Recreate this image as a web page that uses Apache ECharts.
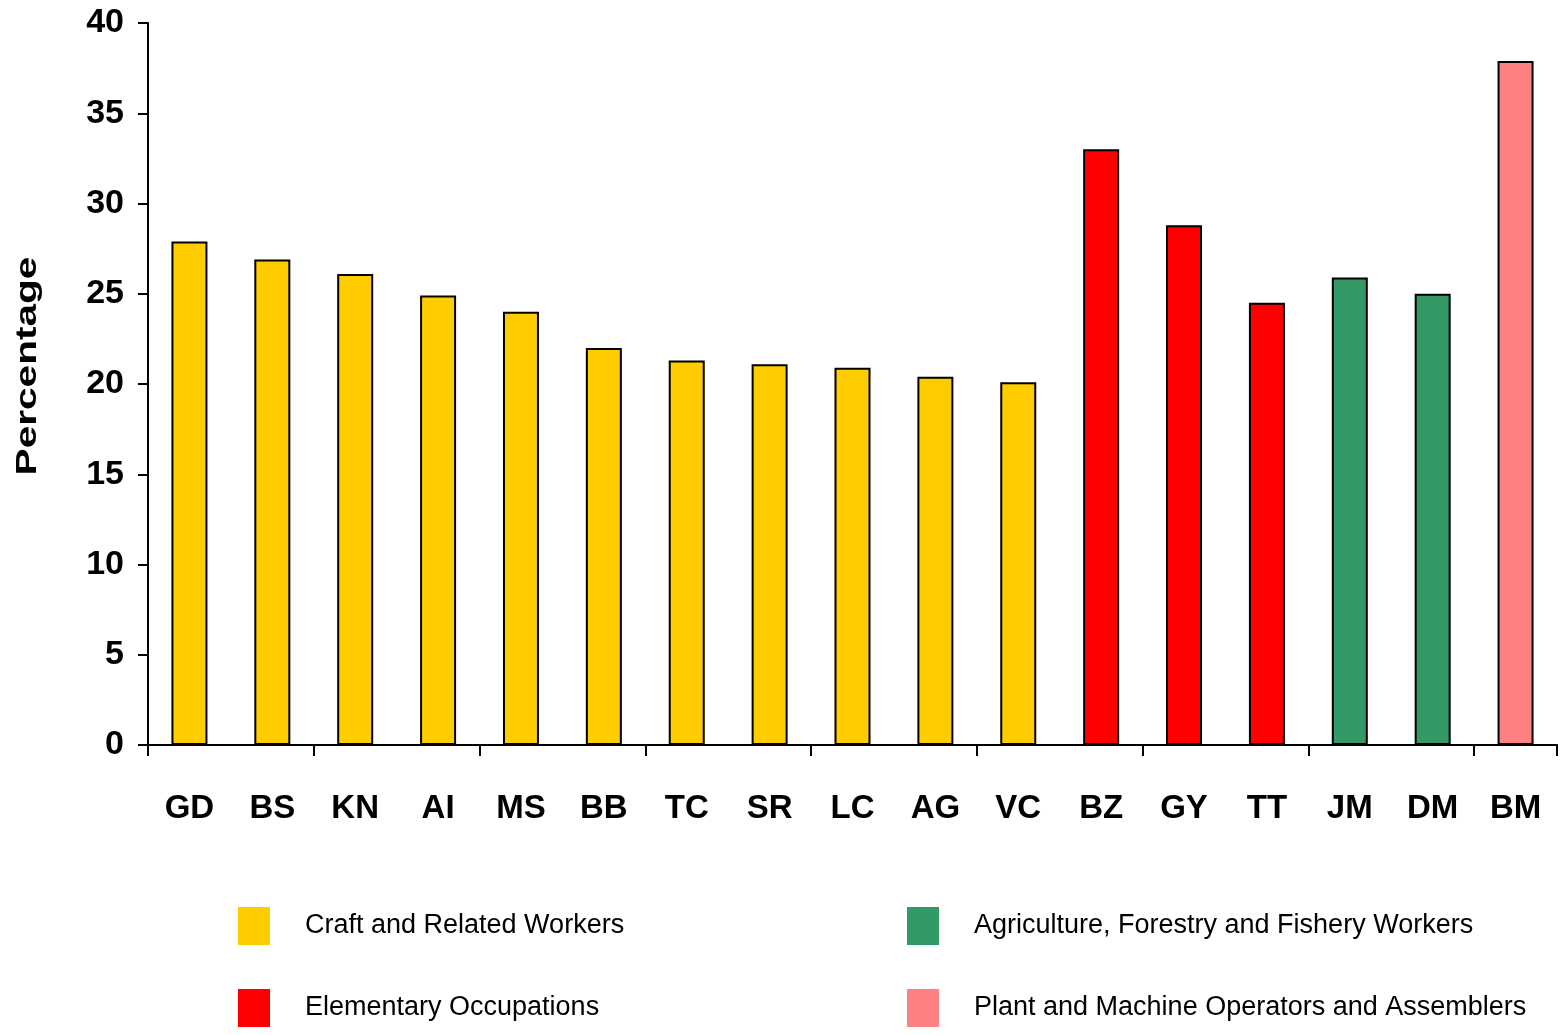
<!DOCTYPE html>
<html>
<head>
<meta charset="utf-8">
<script src="https://cdn.jsdelivr.net/npm/echarts@6/dist/echarts.min.js"></script>
<style>
  html, body { margin: 0; padding: 0; background: #ffffff; }
  #chart { width: 1565px; height: 1035px; }
</style>
</head>
<body>
<div id="chart"></div>
<script>
// Country codes along the x axis
const countries = ['GD', 'BS', 'KN', 'AI', 'MS', 'BB', 'TC', 'SR', 'LC', 'AG', 'VC', 'BZ', 'GY', 'TT', 'JM', 'DM', 'BM'];

// Share (%) of the leading occupational group in each country
const craftValues       = [27.9, 26.9, 26.1, 24.9, 24.0, 22.0, 21.3, 21.1, 20.9, 20.4, 20.1, null, null, null, null, null, null];
const elementaryValues  = [null, null, null, null, null, null, null, null, null, null, null, 33.0, 28.8, 24.5, null, null, null];
const agricultureValues = [null, null, null, null, null, null, null, null, null, null, null, null, null, null, 25.9, 25.0, null];
const plantValues       = [null, null, null, null, null, null, null, null, null, null, null, null, null, null, null, null, 37.9];

const groupNames = [
  'Craft and Related Workers',
  'Elementary Occupations',
  'Agriculture, Forestry and Fishery Workers',
  'Plant and Machine Operators and Assemblers'
];
const groupColors = ['#FFCC00', '#FF0000', '#339966', '#FF8080'];
const groupValues = [craftValues, elementaryValues, agricultureValues, plantValues];

const yTicks = [0, 5, 10, 15, 20, 25, 30, 35, 40];

const fontStack = '"Liberation Sans", Arial, sans-serif';

const chart = echarts.init(document.getElementById('chart'), null, { renderer: 'canvas' });

const series = groupNames.map((name, i) => ({
  name: name,
  type: 'bar',
  stack: 'share',
  barWidth: 36,
  data: groupValues[i].map(v => (v === null ? '-' : v)),
  itemStyle: { color: groupColors[i], borderColor: '#000000', borderWidth: 2 },
  emphasis: { disabled: true }
}));

// One legend block per group, laid out as a 2x2 grid
const legendSlots = [
  { left: 238, top: 907, padTop: 4 },
  { left: 238, top: 989, padTop: 8 },
  { left: 907, top: 907, padTop: 2 },
  { left: 907, top: 989, padTop: 8 }
];
const legends = groupNames.map((name, i) => ({
  data: [name],
  left: legendSlots[i].left,
  top: legendSlots[i].top,
  orient: 'horizontal',
  padding: 0,
  itemWidth: 32,
  itemHeight: 38,
  icon: 'rect',
  selectedMode: false,
  itemStyle: { borderWidth: 0 },
  textStyle: {
    fontFamily: fontStack,
    fontSize: 27,
    color: '#000000',
    padding: [legendSlots[i].padTop, 0, 0, 30]
  }
}));

chart.setOption({
  animation: false,
  backgroundColor: '#ffffff',
  grid: { left: 148, right: 8, top: 23, bottom: 290, containLabel: false },
  legend: legends,
  xAxis: {
    type: 'category',
    data: countries,
    axisLine: { show: true, lineStyle: { color: '#000000', width: 2 } },
    axisTick: { show: true, interval: 1, length: 11, lineStyle: { color: '#000000', width: 2 } },
    axisLabel: {
      interval: 0,
      margin: 47,
      color: '#000000',
      fontFamily: fontStack,
      fontWeight: 'bold',
      fontSize: 33
    },
    splitLine: { show: false }
  },
  yAxis: {
    type: 'value',
    min: yTicks[0],
    max: yTicks[yTicks.length - 1],
    interval: 5,
    axisLine: { show: true, lineStyle: { color: '#000000', width: 2 } },
    axisTick: { show: true, length: 10, lineStyle: { color: '#000000', width: 2 } },
    axisLabel: {
      margin: 24,
      color: '#000000',
      fontFamily: fontStack,
      fontWeight: 'bold',
      fontSize: 34
    },
    splitLine: { show: false }
  },
  graphic: [
    {
      type: 'text',
      x: 28,
      y: 366,
      rotation: Math.PI / 2,
      scaleX: 1.4,
      style: {
        text: 'Percentage',
        font: 'bold 29px "Liberation Sans", Arial, sans-serif',
        fill: '#000000',
        align: 'center',
        verticalAlign: 'middle'
      }
    }
  ],
  series: series
});
</script>
</body>
</html>
